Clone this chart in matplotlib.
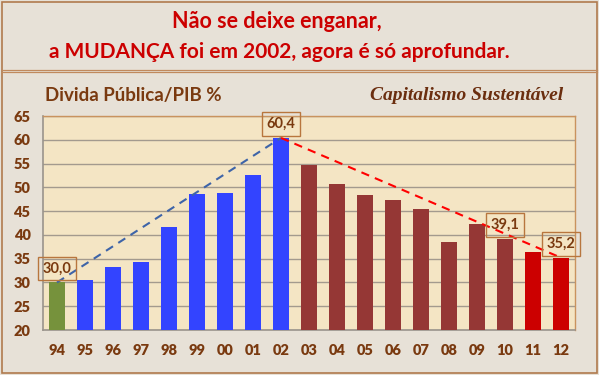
import matplotlib.pyplot as plt
from matplotlib.lines import Line2D
from matplotlib.patches import Rectangle

years = ["94", "95", "96", "97", "98", "99", "00", "01", "02", "03",
         "04", "05", "06", "07", "08", "09", "10", "11", "12"]
divida = [30.0, 30.5, 33.3, 34.4, 41.7, 48.6, 48.8, 52.6, 60.4, 54.8,
          50.6, 48.3, 47.3, 45.5, 38.5, 42.2, 39.1, 36.3, 35.2]
# colour group per year: FHC start, FHC, Lula, Dilma
grupo = ["ini"] + ["fhc"] * 8 + ["lula"] * 8 + ["dilma"] * 2
cores = {"ini": "#76923C", "fhc": "#3344FF", "lula": "#953735", "dilma": "#CC0000"}
rotulos = {0: "30,0", 8: "60,4", 16: "39,1", 18: "35,2"}

BG = "#E7E1D7"
PLOT_BG = "#F4E5C4"
BROWN = "#7A3A10"

fig = plt.figure(figsize=(5.99, 3.75), dpi=100, facecolor=BG)

# frame + separator under headline
fig.add_artist(Rectangle((0.004, 0.006), 0.992, 0.988, transform=fig.transFigure,
                         fill=False, edgecolor="#B07A4E", linewidth=1.2))
for yy in (1 - 69.5 / 375, 1 - 72 / 375):
    fig.add_artist(Line2D([0.004, 0.996], [yy, yy], transform=fig.transFigure,
                          color="#C08A5E", linewidth=0.9))

fig.text(0.462, 0.942, "Não se deixe enganar,", color="#CC0000", fontsize=15.5,
         fontweight="bold", family="Lato", ha="center", va="center")
fig.text(0.467, 0.862, "a MUDANÇA foi em 2002, agora é só aprofundar.", color="#CC0000",
         fontsize=15, fontweight="bold", family="Lato", ha="center", va="center")
fig.text(0.075, 0.745, "Divida Pública/PIB %", color=BROWN, fontsize=13.5,
         fontweight="bold", family="Lato", ha="left", va="center")
fig.text(0.94, 0.745, "Capitalismo Sustentável", color="#6B2E0F", fontsize=14,
         fontweight="bold", fontstyle="italic", family="Liberation Serif",
         ha="right", va="center")

ax = fig.add_axes([43 / 599, 1 - 330 / 375, 532 / 599, 214 / 375])
ax.set_facecolor(PLOT_BG)
x = list(range(len(years)))
ax.bar(x, [v - 20 for v in divida], bottom=20, width=0.55,
       color=[cores[g] for g in grupo], zorder=3)

# dashed trend lines 94->02 and 02->12
ax.plot([0, 8], [divida[0], divida[8]], color="#3E64A8", linestyle=(0, (4, 3)),
        linewidth=1.5, zorder=4)
ax.plot([8, 18], [divida[8], divida[18]], color="#FF0000", linestyle=(0, (4, 3)),
        linewidth=1.5, zorder=4)

for i, txt in rotulos.items():
    ax.annotate(txt, (i, divida[i]), xytext=(0, 10), textcoords="offset points",
                ha="center", va="center", fontsize=10.5, fontweight="bold", color=BROWN,
                family="Lato", zorder=5,
                bbox=dict(boxstyle="square,pad=0.33", facecolor="none",
                          edgecolor="#B8763E", linewidth=1.0))

ax.set_xlim(-0.5, len(years) - 0.5)
ax.set_ylim(20, 65)
ax.set_yticks(range(20, 66, 5))
ax.set_xticks(x)
ax.set_xticklabels(years)
ax.grid(axis="y", color="#A39A8E", linewidth=1.0, zorder=1)
ax.tick_params(length=0, colors=BROWN, labelsize=10.5)
ax.tick_params(axis="x", pad=10)
ax.tick_params(axis="y", pad=9)
for lab in ax.get_xticklabels() + ax.get_yticklabels():
    lab.set_fontweight("heavy")
    lab.set_family("Lato")
for s in ("left", "bottom"):
    ax.spines[s].set_color("#9A948C")
    ax.spines[s].set_linewidth(1.2)
for s in ("top", "right"):
    ax.spines[s].set_color("#C9935E")
    ax.spines[s].set_linewidth(1.0)

fig.savefig("out.png", dpi=100, facecolor=BG)
